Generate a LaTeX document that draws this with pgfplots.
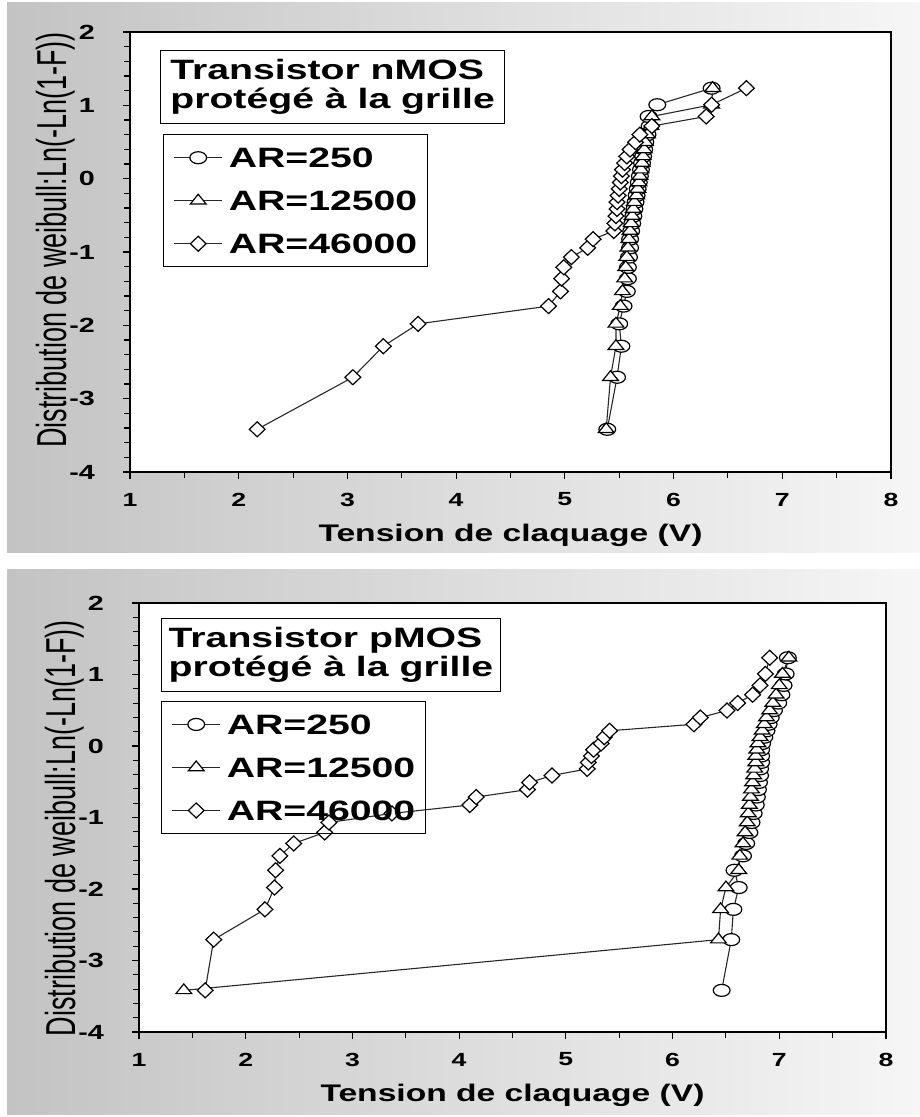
\documentclass[border=0pt]{standalone}
\usepackage{fontspec}
\usepackage{graphicx}
\usepackage{pgfplots}
\usepackage{pgfplotstable}
\pgfplotsset{compat=1.18}
\setmainfont{Liberation Sans}[FakeStretch=1.4]
\newfontfamily\ylabfont{Liberation Sans}
\definecolor{bgL}{RGB}{195,195,195}
\definecolor{bgR}{RGB}{246,246,246}
\definecolor{ln}{RGB}{40,40,40}

% y = ln(-ln(1-i/31)), i = 1..30 ; c = AR=250, t = AR=12500, d = AR=46000
\pgfplotstableread{
y c t d
-3.418 5.39 5.38 2.17
-2.708 5.48 5.42 3.05
-2.285 5.52 5.47 3.33
-1.980 5.50 5.47 3.65
-1.738 5.54 5.51 4.85
-1.537 5.57 5.53 4.96
-1.363 5.58 5.55 4.97
-1.209 5.58 5.56 4.99
-1.070 5.59 5.57 5.06
-0.943 5.60 5.58 5.21
-0.825 5.60 5.59 5.26
-0.714 5.61 5.60 5.45
-0.610 5.62 5.61 5.46
-0.510 5.63 5.62 5.47
-0.413 5.64 5.63 5.48
-0.320 5.65 5.64 5.48
-0.230 5.66 5.66 5.49
-0.140 5.67 5.67 5.50
-0.052 5.68 5.68 5.51
0.035 5.69 5.69 5.52
0.123 5.70 5.70 5.53
0.213 5.71 5.71 5.55
0.304 5.72 5.72 5.57
0.398 5.73 5.73 5.60
0.496 5.74 5.74 5.65
0.601 5.76 5.76 5.69
0.717 5.78 5.79 5.80
0.848 5.77 5.80 6.30
1.008 5.85 6.35 6.35
1.234 6.35 6.36 6.67
}\nmos

\pgfplotstableread{
y c t d
-3.418 6.46 1.42 1.62
-2.708 6.55 6.43 1.70
-2.285 6.57 6.45 2.18
-1.980 6.62 6.50 2.27
-1.738 6.58 6.62 2.28
-1.537 6.66 6.63 2.32
-1.363 6.69 6.66 2.45
-1.209 6.72 6.68 2.74
-1.070 6.74 6.70 2.78
-0.943 6.76 6.71 3.37
-0.825 6.78 6.72 4.10
-0.714 6.79 6.73 4.16
-0.610 6.80 6.74 4.64
-0.510 6.81 6.75 4.66
-0.413 6.82 6.76 4.87
-0.320 6.82 6.77 5.20
-0.230 6.83 6.78 5.21
-0.140 6.83 6.78 5.24
-0.052 6.83 6.79 5.26
0.035 6.84 6.80 5.33
0.123 6.86 6.82 5.36
0.213 6.88 6.84 5.41
0.304 6.90 6.86 6.20
0.398 6.92 6.88 6.26
0.496 6.95 6.91 6.51
0.601 6.99 6.94 6.61
0.717 7.02 6.97 6.75
0.848 7.04 7.00 6.82
1.008 7.06 7.03 6.87
1.234 7.08 7.09 6.91
}\pmos

\tikzset{
  tbox/.style={draw=black, line width=1.3pt, fill=white, anchor=north west, align=left,
    inner xsep=7pt, minimum height=73pt, font=\fontsize{28}{29}\selectfont\bfseries},
}
\pgfplotsset{
  weib/.style={
    scale only axis,
    xmin=1, xmax=8, ymin=-4, ymax=2,
    xtick={1,...,8}, ytick={-4,...,2},
    minor x tick num=1, minor y tick num=4,
    tick align=outside, tick pos=left,
    major tick length=7pt, minor tick length=6pt,
    axis line style={line width=1.3pt, black},
    every tick/.style={black, line width=1.1pt},
    axis background/.style={fill=white},
    /pgf/number format/assume math mode=true,
    x tick label style={font=\fontsize{19}{19}\selectfont\bfseries, anchor=center, yshift=-20.5pt},
    y tick label style={font=\fontsize{20.5}{20.5}\selectfont\bfseries, anchor=east, inner sep=0pt, xshift=-28pt},
    every axis x label/.style={at={(rel axis cs:0.5,0)}, anchor=center, yshift=-63pt,
      font=\fontsize{24}{24}\selectfont\bfseries},
    xlabel={Tension de claquage (V)},
    ylabel={\ylabfont\fontsize{27}{27}\selectfont\scalebox{1}[1.55]{Distribution de weibull:Ln(-Ln(1-F))}},
    legend cell align=left,
    legend image code/.code={\draw[mark repeat=2,mark phase=2] plot coordinates {(0pt,0pt) (24pt,0pt) (48pt,0pt)};},
    legend style={anchor=north west, draw=black, line width=1.3pt, fill=none,
      font=\fontsize{28}{28}\selectfont\bfseries,
      inner xsep=10pt, inner ysep=13pt, row sep=23pt, column sep=6pt,
      nodes={inner sep=0pt, text height=20pt, text depth=0pt}},
  },
  ylab/.style={every axis y label/.style={at={(rel axis cs:0,#1)}, anchor=center, xshift=-74pt, rotate=90}},
  ser/.style={color=ln, line width=1.1pt,
    mark options={draw=black, fill=white, line width=1.2pt, solid, xscale=1.4}},
  sc/.style={ser, mark=*, mark size=6pt},
  st/.style={ser, mark=triangle*, mark size=6.5pt},
  sd/.style={ser, mark=diamond*, mark size=7.5pt},
}

\begin{document}
\begin{tikzpicture}[x=1pt,y=1pt]
\useasboundingbox (0,0) rectangle (920,1117);
\shade[left color=bgL, right color=bgR] (7,564) rectangle (920,1114);
\shade[left color=bgL, right color=bgR] (7,2) rectangle (920,547);

\begin{axis}[weib, ylab=0.527, at={(130pt,645pt)}, anchor=south west, width=761pt, height=440pt,
  legend style={at={(rel axis cs:0.0434,0.768)}}]
\addplot[sc] table[x=c, y=y] {\nmos};
\addplot[st] table[x=t, y=y] {\nmos};
\addplot[sd] table[x=d, y=y] {\nmos};
\legend{AR=250, AR=12500, AR=46000}
\node[tbox, minimum width=344pt] at (rel axis cs:0.0394,0.959) {Transistor nMOS\\protégé à la grille};
\end{axis}

\begin{axis}[weib, ylab=0.475, at={(139pt,85pt)}, anchor=south west, width=747pt, height=429pt,
  legend style={at={(rel axis cs:0.0295,0.772)}}]
\addplot[sc] table[x=c, y=y] {\pmos};
\addplot[st] table[x=t, y=y] {\pmos};
\addplot[sd] table[x=d, y=y] {\pmos};
\legend{AR=250, AR=12500, AR=46000}
\node[tbox, minimum width=338pt] at (rel axis cs:0.0295,0.965) {Transistor pMOS\\protégé à la grille};
\end{axis}
\end{tikzpicture}
\end{document}
